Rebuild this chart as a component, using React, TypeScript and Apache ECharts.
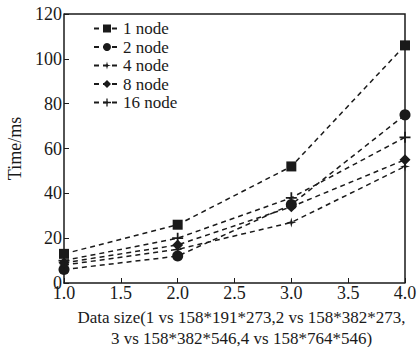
import React, { useEffect, useRef } from "react";
import * as echarts from "echarts";

const xValues = [1, 2, 3, 4];
const seriesNames = ["1 node", "2 node", "4 node", "8 node", "16 node"];
const node1 = [13, 26, 52, 106];
const node2 = [6, 12, 35, 75];
const node4 = [8, 15, 27, 52];
const node8 = [9, 17, 34, 55];
const node16 = [10, 20, 38, 65];

const PLUS = "path://M4.2,0H5.8V4.2H10V5.8H5.8V10H4.2V5.8H0V4.2H4.2Z";
const STAR4 = "path://M5,0L6,4L10,5L6,6L5,10L4,6L0,5L4,4Z";

export default function App() {
  const ref = useRef<HTMLDivElement>(null);
  useEffect(() => {
    document.body.style.margin = "0";
    if (!ref.current) return;
    const chart = echarts.init(ref.current, undefined, { renderer: "svg" });
    const color = "#1a1a1a";
    const font = "Liberation Serif";
    const allData = [node1, node2, node4, node8, node16];
    const symbols = ["rect", "circle", STAR4, "diamond", PLUS];
    const sizes = [10, 11, 10, 11, 11];
    chart.setOption({
      animation: false,
      color: [color, color, color, color, color],
      textStyle: { fontFamily: font, color },
      grid: { left: 64, right: 15, top: 14, bottom: 64, containLabel: false, outerBoundsMode: "none" },
      legend: {
        left: 88,
        top: 15,
        orient: "vertical",
        itemGap: 1.5,
        itemWidth: 26,
        itemHeight: 10,
        textStyle: { fontFamily: font, fontSize: 17, lineHeight: 17, color, padding: [0, 0, 0, -2] },
        data: seriesNames,
      },
      xAxis: {
        type: "value",
        min: 1,
        max: 4,
        interval: 0.5,
        axisLine: { lineStyle: { color, width: 1.5 } },
        axisTick: { inside: true, length: 5, lineStyle: { color } },
        splitLine: { show: false },
        axisLabel: {
          color,
          fontFamily: font,
          fontSize: 18,
          margin: 1,
          formatter: (v: number) => v.toFixed(1),
        },
        name: "Data size(1 vs 158*191*273,2 vs 158*382*273,\n3 vs 158*382*546,4 vs 158*764*546)",
        nameLocation: "middle",
        nameGap: 24,
        nameTextStyle: {
          fontFamily: font,
          fontSize: 17,
          color,
          lineHeight: 21,
          verticalAlign: "top",
          padding: [0, 0, 0, 14],
        },
      },
      yAxis: {
        type: "value",
        min: 0,
        max: 120,
        interval: 20,
        axisLine: { show: true, lineStyle: { color, width: 1.5 } },
        axisTick: { show: true, inside: true, length: 5, lineStyle: { color } },
        splitLine: { show: false },
        axisLabel: { color, fontFamily: font, fontSize: 18, margin: 2 },
        name: "Time/ms",
        nameLocation: "middle",
        nameGap: 38,
        nameTextStyle: { fontFamily: font, fontSize: 18, color },
      },
      graphic: [
        {
          type: "polyline",
          shape: { points: [[64, 14], [405, 14], [405, 283]] },
          style: { stroke: color, lineWidth: 1.5, fill: "none" },
          silent: true,
        },
      ],
      series: seriesNames.map((name, i) => ({
        name,
        type: "line",
        data: xValues.map((x, j) => [x, allData[i][j]]),
        symbol: symbols[i],
        symbolSize: sizes[i],
        showSymbol: true,
        lineStyle: { color, width: 1.5, type: [5, 4] },
        itemStyle: { color, borderWidth: 0 },
      })),
    });
    return () => chart.dispose();
  }, []);
  return <div ref={ref} style={{ width: 420, height: 347 }} />;
}
